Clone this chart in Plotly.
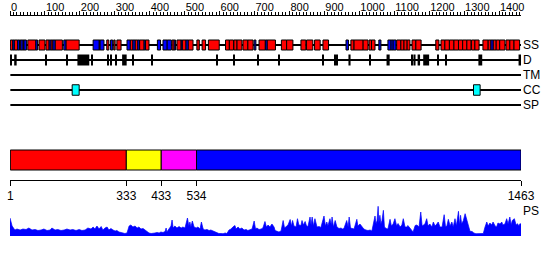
import plotly.graph_objects as go

SEQ_LEN = 1463

RULER_TICKS = [0, 100, 200, 300, 400, 500, 600, 700, 800, 900, 1000, 1100, 1200, 1300, 1400]
RULER_LABELS = ["0", "100", "200", "300", "400", "500", "600", "700", "800", "900",
                "1000", "1100", "1200", "1300", "1400"]

TRACK_LABELS = ["SS", "D", "TM", "CC", "SP"]

# secondary structure segments (residues): start, end, type (H helix, E strand)
SS_START = [1, 8, 12, 22, 27, 31, 37, 40, 51, 74, 83, 103, 112, 117, 123, 129, 154, 160,
            238, 255, 258, 277, 288, 297, 306, 335, 344, 352, 358, 366, 371, 384, 388,
            422, 438, 450, 464, 470, 478, 490, 493, 504, 510, 535, 550, 568,
            617, 628, 641, 650, 667, 681, 699, 713, 731, 736, 777, 792,
            833, 849, 872, 896, 962, 976, 985, 1011, 1028, 1035, 1056,
            1082, 1091, 1097, 1107, 1119, 1128, 1137, 1151, 1162, 1219,
            1234, 1245, 1258, 1271, 1284, 1296, 1308, 1321, 1331, 1354,
            1369, 1377, 1383, 1392, 1402, 1420, 1431, 1443]
SS_END = [8, 12, 22, 27, 31, 37, 40, 47, 74, 79, 100, 112, 117, 123, 129, 150, 160, 198,
          255, 258, 269, 283, 294, 301, 318, 344, 352, 358, 366, 371, 384, 388, 398,
          431, 450, 462, 470, 474, 490, 493, 504, 510, 524, 542, 560, 599,
          628, 640, 650, 664, 681, 696, 704, 731, 736, 760, 792, 810,
          847, 867, 888, 912, 969, 985, 1011, 1025, 1035, 1045, 1062,
          1091, 1097, 1105, 1119, 1128, 1137, 1145, 1162, 1177, 1228,
          1245, 1258, 1271, 1284, 1296, 1308, 1320, 1331, 1343, 1369,
          1377, 1383, 1392, 1402, 1417, 1431, 1443, 1459]
SS_TYPE = ["H", "E", "H", "E", "H", "E", "H", "E", "H", "E", "H", "H", "E", "H", "E", "H", "E", "H",
           "E", "H", "E", "H", "E", "H", "H", "E", "H", "E", "H", "E", "H", "E", "H",
           "E", "E", "E", "H", "E", "H", "E", "H", "E", "H", "H", "H", "H",
           "H", "H", "H", "H", "H", "H", "E", "H", "E", "H", "H", "H",
           "H", "H", "H", "H", "E", "H", "H", "H", "H", "H", "E",
           "E", "E", "E", "H", "H", "H", "H", "H", "H", "H",
           "H", "H", "H", "H", "H", "H", "H", "H", "H", "H",
           "H", "E", "H", "H", "H", "H", "H", "H"]

# disorder segments (residues)
D_START = [1, 12, 101, 163, 193, 233, 280, 288, 303, 321, 350, 405, 592, 639, 708, 769, 894,
           928, 934, 969, 1028, 1078, 1149, 1155, 1167, 1183, 1224, 1246, 1341, 1456]
D_END = [4, 19, 104, 166, 227, 236, 283, 291, 306, 334, 353, 408, 595, 642, 711, 772, 897,
         931, 937, 975, 1031, 1087, 1152, 1161, 1174, 1200, 1227, 1249, 1352, 1463]

# coiled coil segments
CC_START = [178, 1327]
CC_END = [198, 1346]

# domain boundaries
DOM_START = [1, 333, 433, 534]
DOM_END = [333, 433, 534, 1463]
DOM_COLOR = ["#ff0000", "#ffff00", "#ff00ff", "#0000ff"]
BOUNDARY_TICKS = [1, 333, 433, 534, 1463]

# profile (PS)
PROFILE_POS = [0, 3, 6, 10, 14, 20, 29, 37, 46, 54, 63, 72, 80, 89, 97, 106, 115, 120, 129, 137,
               146, 155, 163, 172, 180, 189, 198, 206, 215, 223, 232, 238, 243, 249, 255, 261,
               266, 272, 278, 283, 289, 295, 301, 306, 312, 318, 324, 329, 335, 341, 346, 352,
               358, 364, 369, 375, 381, 387, 392, 398, 404, 409, 415, 421, 427, 432, 438, 444,
               447, 449, 455, 461, 464, 467, 472, 478, 484, 490, 495, 501, 508, 512, 515, 518,
               522, 527, 533, 538, 544, 548, 553, 558, 564, 570, 575, 581, 587, 593, 598, 604,
               610, 616, 621, 627, 633, 638, 644, 647, 653, 658, 664, 670, 676, 681, 687, 693,
               699, 703, 707, 713, 719, 724, 730, 734, 739, 744, 750, 756, 759, 764, 770, 776,
               782, 786, 790, 796, 802, 806, 809, 813, 819, 823, 827, 833, 836, 840, 845, 849,
               853, 859, 862, 865, 869, 873, 879, 885, 890, 899, 903, 907, 910, 916, 920, 922,
               926, 931, 936, 942, 948, 951, 956, 964, 968, 971, 975, 979, 985, 993, 996, 1002,
               1008, 1013, 1019, 1025, 1031, 1036, 1045, 1048, 1051, 1054, 1056, 1059, 1062,
               1065, 1069, 1072, 1077, 1082, 1088, 1092, 1097, 1102, 1107, 1111, 1117, 1122,
               1126, 1131, 1137, 1139, 1145, 1154, 1160, 1165, 1171, 1176, 1180, 1183, 1188,
               1193, 1197, 1202, 1208, 1212, 1217, 1222, 1226, 1231, 1237, 1243, 1247, 1251,
               1255, 1260, 1265, 1269, 1274, 1278, 1284, 1287, 1290, 1293, 1298, 1303, 1307,
               1312, 1317, 1323, 1328, 1334, 1340, 1346, 1351, 1355, 1360, 1365, 1369, 1374,
               1379, 1383, 1389, 1393, 1397, 1403, 1408, 1411, 1417, 1422, 1426, 1431, 1435,
               1438, 1444, 1449, 1453, 1457, 1460, 1463]
PROFILE_VAL = [18, 14, 10, 8, 6, 7, 6, 7, 6.5, 8, 6, 6.5, 5.5, 6, 7, 5.5, 6, 8, 6, 6.5,
               5.5, 6, 7, 6, 6.5, 5.5, 6.5, 5.5, 6, 8, 7, 9, 7, 10, 7, 9.5,
               6, 8, 9, 6, 7.5, 6, 5, 5.5, 4, 3.5, 3, 2.5, 3, 10, 11, 9,
               10, 8, 9, 7, 7.5, 6, 5, 3, 2.5, 2.5, 3, 3.5, 3, 4, 3.5, 4.5,
               8, 4, 7, 10, 16, 8, 10, 8, 9.5, 8, 9, 8, 18, 10, 14, 9,
               15, 9, 8, 9, 7, 14, 7, 6, 6.5, 5.5, 6, 5, 4, 3, 2.5, 2.5,
               2.3, 3, 2.5, 6, 7, 9, 10.5, 7, 9, 7, 8, 6, 6.5, 5.5, 6, 7,
               15, 7, 8, 6.5, 7, 8, 14.5, 9, 11, 9, 12, 9, 5.5, 4.5, 4, 5,
               15.5, 8, 9, 11, 16.5, 10, 15.5, 10, 9, 17.3, 11, 10.5, 15.5, 11, 14.5, 10,
               9.5, 19, 11, 19, 10, 17.3, 9, 9.5, 8.5, 20, 10, 14, 10, 17.3, 11, 19,
               9, 15.5, 9, 7.5, 8, 7, 7.5, 15.5, 9, 19, 8, 7.5, 7, 16.7, 10, 12,
               9, 7, 6, 5.5, 6, 5, 20, 12, 15.5, 29.7, 13, 20.7, 12,
               15.5, 25.7, 9, 7.5, 7, 16.7, 10, 12, 17.3, 10, 12.5, 9, 11,
               17.3, 9, 9, 10.5, 8, 4, 10.5, 11, 9, 24, 10, 10.5, 12,
               17.3, 10, 12, 9, 14, 10, 12, 14, 9, 9, 21.3, 9, 10.5,
               16.7, 10, 14, 9, 17.3, 10, 24.7, 11, 20.7, 12, 15.5, 22.3, 17.3,
               12.3, 4.7, 4.5, 3, 2.3, 2.3, 2.3, 2.3, 2.5, 9, 14, 10, 13,
               11, 14, 10, 9, 13, 12, 14, 11, 12, 17.3, 12, 19, 11,
               15.5, 17.3, 11, 12.3, 10, 12.3, 12]

# ---------------- layout constants (pixels) ----------------
W, H = 550, 260
X0_PX, X1_PX = 10, 521
ROW_Y = {"SS": 45, "D": 60, "TM": 75, "CC": 90, "SP": 105}
DOM_Y = 160
RULER_PX = 15
BOTTOM_AXIS_PX = 180
PROF_TOP_PX, PROF_BASE_PX = 205, 236
FONT = "Liberation Sans, Arial, sans-serif"

fig = go.Figure()


def hbar(starts, ends, y, width, color, line_w=0, line_c="black"):
    fig.add_trace(go.Bar(
        orientation="h",
        base=starts,
        x=[e - s for s, e in zip(starts, ends)],
        y=[y] * len(starts),
        width=width,
        marker=dict(color=color, line=dict(color=line_c, width=line_w)),
        hoverinfo="skip", showlegend=False,
    ))


# backbone lines for each track
for name in TRACK_LABELS:
    hbar([1], [SEQ_LEN], ROW_Y[name], 1, "black")

# SS boxes
for t, col in (("H", "#ff0000"), ("E", "#0000ff")):
    s = [a for a, k in zip(SS_START, SS_TYPE) if k == t]
    e = [b for b, k in zip(SS_END, SS_TYPE) if k == t]
    hbar(s, e, ROW_Y["SS"], 10, col, line_w=1)

# disorder ticks
hbar(D_START, D_END, ROW_Y["D"], 11, "black")

# coiled coils
hbar(CC_START, CC_END, ROW_Y["CC"], 10.5, "#00ffff", line_w=1)

# domains
hbar(DOM_START, DOM_END, DOM_Y, 20, DOM_COLOR, line_w=1)

# profile
fig.add_trace(go.Scatter(
    x=PROFILE_POS, y=PROFILE_VAL, xaxis="x", yaxis="y2",
    mode="lines", line=dict(color="#0000ff", width=0.7),
    fill="tozeroy", fillcolor="#0000ff",
    hoverinfo="skip", showlegend=False,
))

# dummy trace for the bottom axis
fig.add_trace(go.Scatter(x=[1], y=[None], xaxis="x2", yaxis="y",
                         mode="markers", hoverinfo="skip", showlegend=False))

dom = [X0_PX / W, X1_PX / W]

annotations = []
for name in TRACK_LABELS:
    annotations.append(dict(
        x=X1_PX / W, xref="paper", y=ROW_Y[name], yref="y",
        text=name, showarrow=False, xanchor="left", yanchor="middle",
        font=dict(family=FONT, size=12, color="#000000"),
    ))
annotations.append(dict(
    x=X1_PX / W, xref="paper", y=211, yref="y",
    text="PS", showarrow=False, xanchor="left", yanchor="middle",
    font=dict(family=FONT, size=12, color="#000000"),
))

fig.update_layout(
    width=W, height=H,
    margin=dict(l=0, r=0, t=0, b=0, pad=0, autoexpand=False),
    paper_bgcolor="white", plot_bgcolor="white",
    barmode="overlay",
    showlegend=False,
    xaxis=dict(
        domain=dom, range=[0, SEQ_LEN], automargin=False,
        anchor="free", position=1 - RULER_PX / H, side="top",
        showline=True, linecolor="black", linewidth=1,
        showgrid=False, zeroline=False,
        tickmode="array", tickvals=RULER_TICKS, ticktext=RULER_LABELS,
        ticks="outside", ticklen=4, tickcolor="black", tickwidth=1,
        ticklabelposition="outside right",
        tickfont=dict(family=FONT, size=11, color="#000000"),
        minor=dict(dtick=10, tick0=0, ticks="outside", ticklen=3, tickcolor="black",
                   tickwidth=1, showgrid=False),
    ),
    xaxis2=dict(
        overlaying="x", range=[0, SEQ_LEN], automargin=False,
        anchor="free", position=1 - BOTTOM_AXIS_PX / H, side="bottom",
        showline=True, linecolor="black", linewidth=1,
        showgrid=False, zeroline=False,
        tickmode="array", tickvals=BOUNDARY_TICKS,
        ticktext=[str(v) for v in BOUNDARY_TICKS],
        ticks="outside", ticklen=5, tickcolor="black", tickwidth=1,
        tickfont=dict(family=FONT, size=12, color="#000000"),
    ),
    yaxis=dict(domain=[0, 1], range=[H, 0], visible=False, fixedrange=True,
               automargin=False),
    yaxis2=dict(domain=[1 - PROF_BASE_PX / H, 1 - PROF_TOP_PX / H], range=[0, 31],
                anchor="x", visible=False, automargin=False),
    annotations=annotations,
)

fig.write_html("out.html")
